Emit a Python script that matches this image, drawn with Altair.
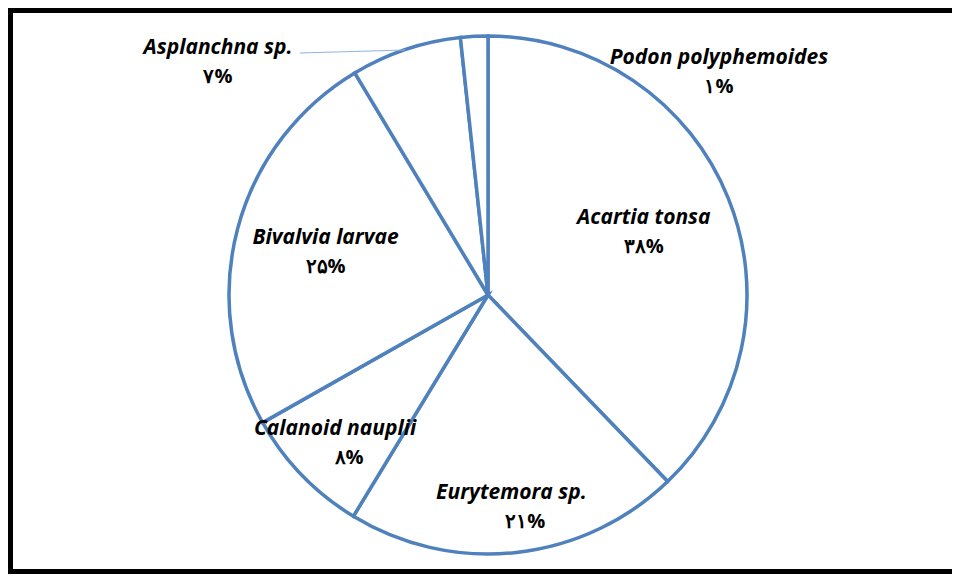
import altair as alt
import pandas as pd

species = ["Acartia tonsa", "Eurytemora sp.", "Calanoid nauplii",
           "Bivalvia larvae", "Asplanchna sp.", "Podon polyphemoides"]
values = [37.8, 20.9, 8.1, 24.6, 6.9, 1.7]
pct_labels = ["۳۸%", "۲۱%", "۸%", "۲۵%", "۷%", "۱%"]
order_idx = [1, 2, 3, 4, 5, 6]

df = pd.DataFrame({"species": species, "value": values,
                   "pct": pct_labels, "idx": order_idx})

W, H = 944, 566
CX, CY = 480, 287
R = 259
BLUE = "#4F81BD"
FONT = "Open Sans"
FS = 21

base = alt.Chart(df).transform_window(
    cum="sum(value)", sort=[alt.SortField("idx")]
).transform_calculate(
    start="datum.cum - datum.value",
    mid="datum.cum - datum.value / 2"
)

theta_scale = alt.Scale(domain=[0, 100])

arcs = base.mark_arc(fill="white", stroke=BLUE, strokeWidth=3.5,
                     outerRadius=R).encode(
    theta=alt.Theta("start:Q", scale=theta_scale),
    theta2="cum:Q",
    x=alt.value(CX), y=alt.value(CY),
)

def inner_labels(names, radius, pct_dx=0):
    sub = base.transform_filter(alt.FieldOneOfPredicate(field="species", oneOf=names))
    name = sub.mark_text(font=FONT, fontSize=FS, fontWeight="bold",
                         fontStyle="italic", color="black", dy=-14).encode(
        theta=alt.Theta("mid:Q", scale=theta_scale),
        radius=alt.value(radius),
        x=alt.value(CX), y=alt.value(CY),
        text="species:N",
    )
    pct = sub.mark_text(font=FONT, fontSize=FS - 1, fontWeight="bold",
                        color="black", dy=15, dx=pct_dx).encode(
        theta=alt.Theta("mid:Q", scale=theta_scale),
        radius=alt.value(radius),
        x=alt.value(CX), y=alt.value(CY),
        text="pct:N",
    )
    return name + pct

lab_a = inner_labels(["Acartia tonsa", "Bivalvia larvae"], 168)
lab_b = inner_labels(["Eurytemora sp.", "Calanoid nauplii"], 213, pct_dx=14)

def outer_label(nm, px, py):
    sub = alt.Chart(df).transform_filter(alt.datum.species == nm)
    name = sub.mark_text(font=FONT, fontSize=FS, fontWeight="bold",
                         fontStyle="italic", color="black", dy=-14).encode(
        x=alt.value(px), y=alt.value(py), text="species:N")
    pct = sub.mark_text(font=FONT, fontSize=FS - 1, fontWeight="bold",
                        color="black", dy=15).encode(
        x=alt.value(px), y=alt.value(py), text="pct:N")
    return name + pct

lab_asp = outer_label("Asplanchna sp.", 210, 54)
lab_pod = outer_label("Podon polyphemoides", 711, 64)

leader = alt.Chart(df).transform_filter(alt.datum.species == "Asplanchna sp.").mark_rule(
    color="#8EB4E3", strokeWidth=1).encode(
    x=alt.value(292), x2=alt.value(397), y=alt.value(45), y2=alt.value(42))

one = pd.DataFrame({"a": [0]})
frame_top = alt.Chart(one).mark_rule(color="black", strokeWidth=5).encode(
    x=alt.value(0), x2=alt.value(W), y=alt.value(2.5), y2=alt.value(2.5))
frame_left = alt.Chart(one).mark_rule(color="black", strokeWidth=5).encode(
    x=alt.value(2.5), x2=alt.value(2.5), y=alt.value(0), y2=alt.value(H))
frame_bottom = alt.Chart(one).mark_rule(color="black", strokeWidth=5).encode(
    x=alt.value(0), x2=alt.value(W), y=alt.value(H - 2.5), y2=alt.value(H - 2.5))
# white cover along the right edge (the reference frame is cut off there)
cover_right = alt.Chart(one).mark_rule(color="white", strokeWidth=8).encode(
    x=alt.value(W - 3), x2=alt.value(W - 3), y=alt.value(6), y2=alt.value(H - 6))

chart = alt.layer(frame_top, frame_left, frame_bottom, arcs, leader,
                  lab_a, lab_b, lab_asp, lab_pod, cover_right).properties(
    width=W, height=H,
    autosize=alt.AutoSizeParams(type="none"),
    padding=0,
    background="white",
).configure_view(stroke=None, strokeWidth=0)

chart.save("out.html", embed_options={"renderer": "svg", "actions": False})
